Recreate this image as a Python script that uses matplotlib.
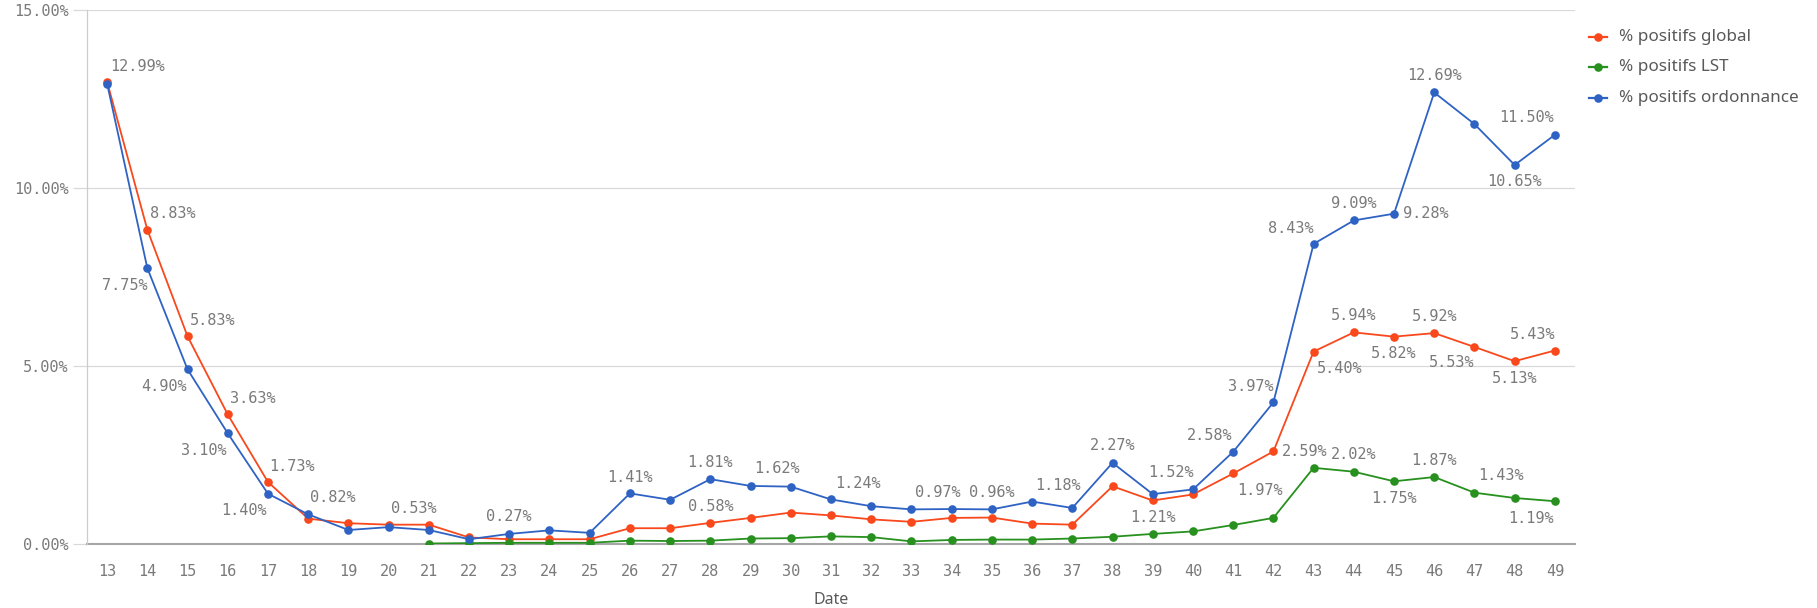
import numpy as np
import matplotlib
matplotlib.use("Agg")
import matplotlib.pyplot as plt
from matplotlib.lines import Line2D
from matplotlib.ticker import FuncFormatter

# ---- data (weekly % positive) ----
weeks = list(range(13, 50))
global_pct = [12.99, 8.83, 5.83, 3.63, 1.73, 0.70, 0.57, 0.53, 0.53, 0.17,
              0.12, 0.12, 0.12, 0.43, 0.43, 0.58, 0.72, 0.87, 0.79, 0.68,
              0.61, 0.72, 0.73, 0.56, 0.53, 1.61, 1.21, 1.38, 1.97, 2.59,
              5.40, 5.94, 5.82, 5.92, 5.53, 5.13, 5.43]
lst_pct = [np.nan] * 8 + [0.00, 0.01, 0.02, 0.02, 0.02, 0.08, 0.07, 0.08,
                          0.14, 0.15, 0.20, 0.18, 0.06, 0.10, 0.11, 0.11,
                          0.14, 0.19, 0.27, 0.34, 0.52, 0.72, 2.13, 2.02,
                          1.75, 1.87, 1.43, 1.28, 1.19]
ordo_pct = [12.94, 7.75, 4.90, 3.10, 1.40, 0.82, 0.38, 0.46, 0.38, 0.12,
            0.27, 0.37, 0.30, 1.41, 1.23, 1.81, 1.62, 1.60, 1.24, 1.05,
            0.96, 0.97, 0.96, 1.18, 1.00, 2.27, 1.39, 1.52, 2.58, 3.97,
            8.43, 9.09, 9.28, 12.69, 11.80, 10.65, 11.50]
series_names = ["% positifs global", "% positifs LST", "% positifs ordonnance"]

# which points carry a value label: (series idx, week, dx px, dy px)
label_specs = [
    (0, 13, 30, 15), (0, 14, 25, 16), (0, 15, 25, 16), (0, 16, 25, 16),
    (0, 17, 24, 16), (0, 20, 25, 16), (0, 28, 0, 16), (0, 39, 0, -17),
    (0, 41, 27, -17), (0, 42, 31, 0), (0, 43, 26, -17), (0, 44, 0, 17),
    (0, 45, 0, -17), (0, 46, 0, 17), (0, 47, -23, -16), (0, 48, 0, -17),
    (0, 49, -22, 16),
    (1, 44, 0, 17), (1, 45, 0, -17), (1, 46, 0, 17), (1, 47, 27, 17),
    (1, 49, -24, -17),
    (2, 14, -23, -17), (2, 15, -24, -17), (2, 16, -24, -17), (2, 17, -24, -17),
    (2, 18, 25, 17), (2, 23, 0, 17), (2, 26, 0, 16), (2, 28, 0, 17),
    (2, 29, 26, 17), (2, 31, 27, 16), (2, 34, -14, 17), (2, 35, 0, 17),
    (2, 36, 26, 16), (2, 38, 0, 17), (2, 40, -22, 17), (2, 41, -23, 16),
    (2, 42, -23, 16), (2, 43, -23, 15), (2, 44, 0, 17), (2, 45, 32, 0),
    (2, 46, 0, 17), (2, 48, 0, -17), (2, 49, -28, 17),
]

COLORS = ["#f8481c", "#27901e", "#2f63c3"]
GRID = "#d9d9d9"
TXT = "#7a7a7a"
DARK = "#595959"
MONO = "DejaVu Sans Mono"
SANS = "Noto Sans"

W, H = 1817, 608
fig = plt.figure(figsize=(W / 100, H / 100), dpi=100)
ax = fig.add_axes([87 / W, 64.5 / H, (1575 - 87) / W, (543.5 - 10.4) / H])

all_series = [global_pct, lst_pct, ordo_pct]
for i, vals in enumerate(all_series):
    ax.plot(weeks, vals, color=COLORS[i], lw=1.3, marker="o", ms=6.2,
            markeredgewidth=0, zorder=3 + i)

for s, wk, dx, dy in label_specs:
    v = all_series[s][weeks.index(wk)]
    ax.annotate(f"{v:.2f}%", xy=(wk, v), xytext=(dx, dy),
                textcoords="offset pixels", ha="center", va="center",
                fontsize=11, family=MONO, color=TXT, zorder=10)

ax.set_xlim(12.5, 49.5)
ax.set_ylim(0, 15)
ax.set_yticks([0, 5, 10, 15])
ax.yaxis.set_major_formatter(FuncFormatter(lambda v, _: f"{v:.2f}%"))
ax.set_xticks(weeks)
ax.grid(axis="y", color=GRID, lw=0.9, zorder=0)
ax.grid(axis="x", visible=False)
for side in ["top", "right"]:
    ax.spines[side].set_visible(False)
ax.spines["left"].set_color("#cccccc")
ax.spines["left"].set_linewidth(0.9)
ax.spines["bottom"].set_color("#a6a6a6")
ax.spines["bottom"].set_linewidth(1.5)
ax.spines["bottom"].set_zorder(2)
ax.tick_params(axis="y", length=10, width=0.9, color=GRID, pad=3,
               labelsize=11, labelcolor=TXT)
ax.tick_params(axis="x", length=0, pad=15, labelsize=11, labelcolor=TXT)
for lbl in ax.get_xticklabels() + ax.get_yticklabels():
    lbl.set_family(MONO)

fig.text(831 / W, 1 - 600 / H, "Date", ha="center", va="center",
         fontsize=11.5, family=SANS, color=DARK)

# legend, drawn by hand on the right
rows = [36.7, 67.3, 97.7]
for i, name in enumerate(series_names):
    y = 1 - rows[i] / H
    fig.add_artist(Line2D([1589 / W, 1607 / W], [y, y], color=COLORS[i],
                          lw=1.6, transform=fig.transFigure))
    fig.add_artist(Line2D([1598 / W], [y], color=COLORS[i], marker="o",
                          ms=6.2, markeredgewidth=0, transform=fig.transFigure))
    fig.text(1619 / W, y, name, ha="left", va="center", fontsize=12.3,
             family=SANS, color=DARK)

fig.savefig("out.png", dpi=100, facecolor="white")
